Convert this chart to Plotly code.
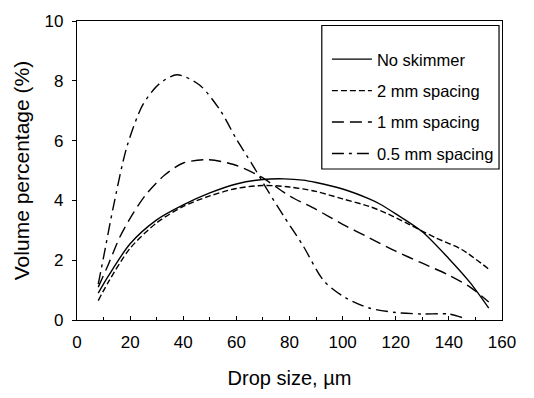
import plotly.graph_objects as go

# Drop size (µm) and volume percentage (%) for each series
x_none = [8, 12, 20, 30, 40, 50, 60, 70, 78, 85, 90, 100, 110, 114, 120, 130, 140, 148, 155]
y_none = [0.9, 1.5, 2.55, 3.35, 3.85, 4.25, 4.55, 4.7, 4.72, 4.68, 4.6, 4.38, 4.05, 3.88, 3.55, 2.95, 2.05, 1.25, 0.4]

x_2mm = [8, 12, 20, 30, 40, 50, 60, 70, 80, 90, 100, 110, 117, 125, 135, 145, 155]
y_2mm = [0.65, 1.3, 2.4, 3.25, 3.8, 4.15, 4.4, 4.5, 4.45, 4.3, 4.05, 3.8, 3.55, 3.2, 2.75, 2.35, 1.7]

x_1mm = [8, 12, 16, 21, 26, 33, 40, 49, 59, 69, 80, 90, 100, 110, 120, 130, 140, 148, 155]
y_1mm = [1.1, 1.9, 2.75, 3.55, 4.2, 4.85, 5.25, 5.36, 5.2, 4.8, 4.15, 3.7, 3.2, 2.75, 2.3, 1.9, 1.5, 1.1, 0.6]

x_05mm = [8, 10, 13.6, 18.8, 24.8, 31, 37.6, 46, 54, 60, 66, 72, 78, 85, 93, 101, 110, 120, 130, 140, 146]
y_05mm = [1.2, 2.1, 3.75, 5.8, 7.2, 7.9, 8.2, 7.87, 7.0, 6.05, 5.2, 4.3, 3.45, 2.5, 1.3, 0.75, 0.4, 0.25, 0.2, 0.2, 0.05]

names = ["No skimmer", "2 mm spacing", "1 mm spacing", "0.5 mm spacing"]
x_ticks = [0, 20, 40, 60, 80, 100, 120, 140, 160]
y_ticks = [0, 2, 4, 6, 8, 10]

series = [(x_none, y_none, "solid"),
          (x_2mm, y_2mm, "6px,3px"),
          (x_1mm, y_1mm, "12px,6px"),
          (x_05mm, y_05mm, "12px,5px,3px,5px")]

fig = go.Figure()
for i, ((xs, ys, dash), name) in enumerate(zip(series, names)):
    fig.add_trace(go.Scatter(
        x=xs, y=ys, mode="lines", name=name, legendgroup=str(i),
        line=dict(color="black", width=1.4, dash=dash, shape="spline", smoothing=0.8),
    ))

# legend frame (drawn as a box behind the legend entries)
fig.add_shape(type="rect", xref="paper", yref="paper",
              x0=0.576, x1=0.993, y0=0.505, y1=0.985,
              line=dict(color="black", width=1.2), fillcolor="white", layer="above")

font = "Liberation Sans, Arial, sans-serif"
fig.update_layout(
    width=534, height=398,
    margin=dict(l=77, r=32, t=18, b=76),
    paper_bgcolor="white", plot_bgcolor="white",
    font=dict(family=font, color="black", size=17),
    showlegend=True,
    legend=dict(x=0.588, y=0.93, xanchor="left", yanchor="top",
                borderwidth=0, bgcolor="rgba(0,0,0,0)",
                font=dict(size=16.5), tracegroupgap=7, itemwidth=40),
    xaxis=dict(range=[0, 160], tickvals=x_ticks, ticktext=[str(v) for v in x_ticks],
               showline=True, linecolor="black", linewidth=1.2, mirror=True,
               ticks="inside", ticklen=4, tickcolor="black",
               minor=dict(dtick=10, ticks="inside", ticklen=3, tickcolor="black"),
               showgrid=False, zeroline=False, ticklabelstandoff=6,
               title=dict(text="Drop size, µm", font=dict(size=20), standoff=20)),
    yaxis=dict(range=[0, 10], tickvals=y_ticks, ticktext=[str(v) for v in y_ticks],
               showline=True, linecolor="black", linewidth=1.2, mirror=True,
               ticks="outside", ticklen=4, tickcolor="black",
               showgrid=False, zeroline=False, ticklabelstandoff=5,
               title=dict(text="Volume percentage (%)", font=dict(size=21), standoff=9)),
)

fig.write_html("out.html", config={"displayModeBar": False},
               post_script="document.body.style.margin='0';document.body.style.overflow='hidden';")
